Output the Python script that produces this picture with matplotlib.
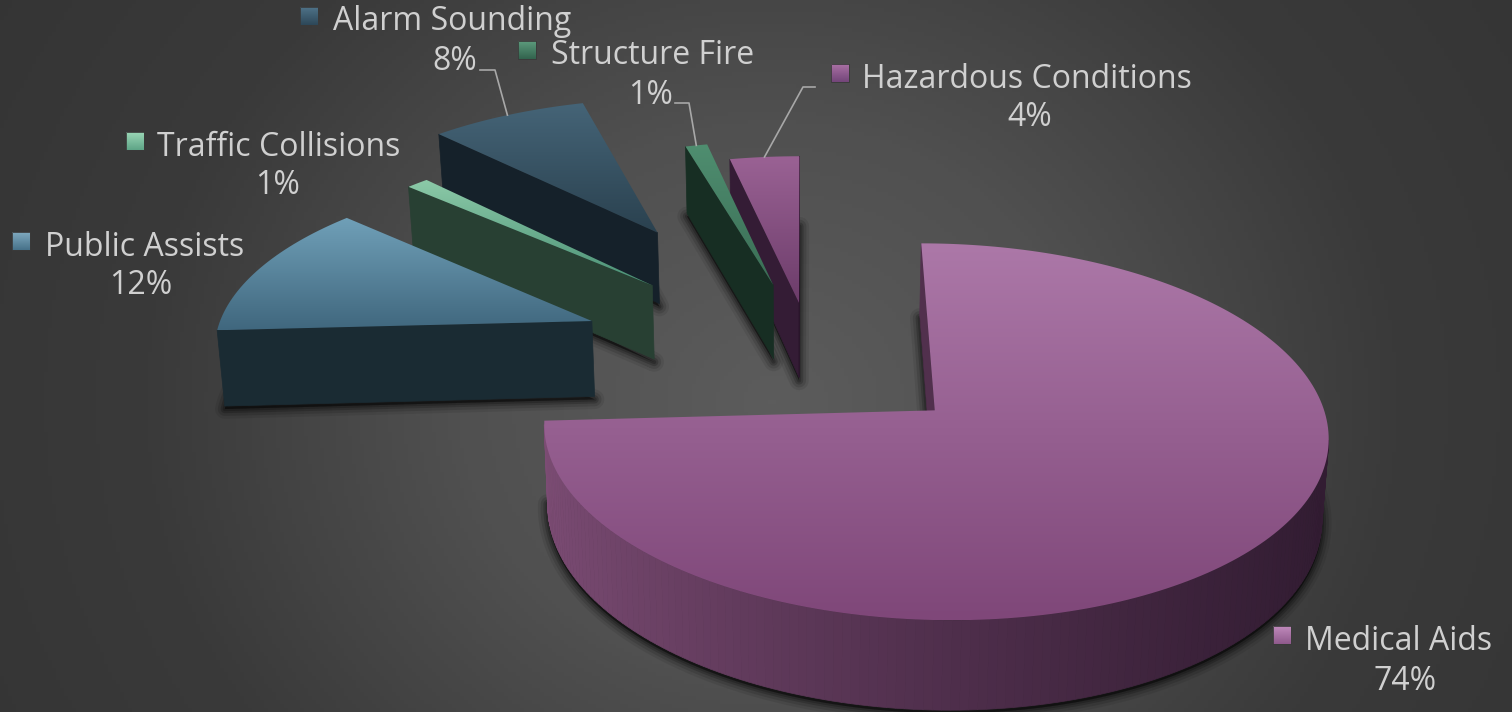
# -*- coding: utf-8 -*-
"""
Exploded 3D pie of incident types, projected by hand since matplotlib has no 3D pie
"""

import numpy as np
import matplotlib.pyplot as plt
from matplotlib.colors import LinearSegmentedColormap, to_rgb
from matplotlib.patches import Polygon, Rectangle

plt.rcParams['font.family'] = ['Open Sans', 'DejaVu Sans']

# data, clockwise from 12 o'clock
categories = ['Medical Aids', 'Public Assists', 'Traffic Collisions',
              'Alarm Sounding', 'Structure Fire', 'Hazardous Conditions']
percent_labels = ['74%', '12%', '1%', '8%', '1%', '4%']
shares = [74.1, 12.45, 1.1, 7.9, 1.07, 3.35]
explode = [0.455, 0.602, 0.59, 0.87, 0.43, 0.31]
explode_deg = [132.6, 289.4, 315.3, 331.5, 349.0, 358.0]
radius_u = [0.99, 1.0, 1.0, 1.0, 1.0, 1.0]

# styles
top_light = ['#ac78a8', '#70a0b8', '#8ccaa8', '#456477', '#4f8e70', '#9a6294']
top_dark = ['#7f4779', '#40677e', '#4a9075', '#2a414f', '#3a6d55', '#6c3c6a']
wall_left = ['#7c4c74', '#1b2c34', '#30483b', '#1c2c36', '#223c30', '#432644']
wall_right = ['#321c32', '#1a2a32', '#233a2e', '#101a21', '#10241a', '#29152a']
draw_order = [5, 4, 3, 2, 1, 0]

# legend key x, name x, name y, percent x, percent y
label_pos = [(1273, 1305, 639, 1405, 679), (12, 45, 245, 141, 283),
             (126, 157, 145, 278, 184), (300, 333, 20, 455, 59),
             (518, 551, 54, 651, 93), (831, 862, 77, 1030, 116)]
key_colors = [('#c08abc', '#8f5a8c'), ('#7fa9bf', '#47728a'), ('#9ad6b6', '#5fa587'),
              ('#4f7288', '#2d4859'), ('#5c9a7c', '#33644e'), ('#a970a4', '#74467a')]
# leader elbow points: slice index, label end, elbow
leaders = [(3, (480, 70), (495, 70)), (4, (675, 103), (689, 103)), (5, (815, 87), (803, 87))]

# projection of the pie plane onto the page
OX, OY = 803, 355
RX, RY = 380, 173.6
K = 0.11
DEPTH = 77
BOTTOM_SHRINK = 0.987


def project(u, v):
    w = 1 + K * v
    return OX + RX * u / w, OY - RY * v / w


def drop(x, y, v):
    return OX + (x - OX) * BOTTOM_SHRINK, y + DEPTH / (1 + K * v)


def mix(c1, c2, t):
    return tuple((1 - t) * a + t * b for a, b in zip(to_rgb(c1), to_rgb(c2)))


fig = plt.figure(figsize=(15.12, 7.12), dpi=100)
ax = fig.add_axes([0, 0, 1, 1])
ax.set_xlim(0, 1512)
ax.set_ylim(712, 0)
ax.axis('off')

# background glow
xx, yy = np.meshgrid(np.arange(0, 1512, 4), np.arange(0, 712, 4))
rr = np.sqrt(((xx - 770) / 850) ** 2 + ((yy - 400) / 760) ** 2)
bg = LinearSegmentedColormap.from_list('bg', ['#5c5c5c', '#505050', '#3a3a3a', '#343434'])
ax.imshow(rr, cmap=bg, vmin=0, vmax=1.1, extent=(0, 1512, 712, 0), aspect='auto', zorder=0)

edges = np.cumsum([0] + shares) / sum(shares) * 2 * np.pi
apex_u = np.array(explode) * np.sin(np.radians(explode_deg))
apex_v = np.array(explode) * np.cos(np.radians(explode_deg))
z = 1
for i in draw_order:
    n = max(int(shares[i] * 3), 6)
    t = np.linspace(edges[i], edges[i + 1], n)
    u = np.r_[apex_u[i], apex_u[i] + radius_u[i] * np.sin(t)]
    v = np.r_[apex_v[i], apex_v[i] + np.cos(t)]
    x, y = project(u, v)
    xb, yb = drop(x, y, v)

    # soft shadow round the foot of the slice
    for lw, a in [(14, 0.08), (10, 0.12), (6, 0.18), (3, 0.2)]:
        ax.add_patch(Polygon(np.c_[xb, yb + 3], closed=True, fc='k', ec='k', lw=lw, alpha=a,
                             joinstyle='round', zorder=z))
    z += 1

    # walls, only the quads that face the viewer (edge running right to left on the page)
    xmin, xmax = x.min(), x.max()
    order = list(range(len(x)))
    for a, b in zip(order, order[1:] + [0]):
        if x[b] >= x[a]:
            continue
        tc = ((x[a] + x[b]) / 2 - xmin) / (xmax - xmin)
        c = mix(wall_left[i], wall_right[i], tc ** 0.75)
        ax.add_patch(Polygon([(x[a], y[a]), (x[b], y[b]), (xb[b], yb[b]), (xb[a], yb[a])],
                             closed=True, fc=c, ec=c, lw=0.5, zorder=z))
    z += 1

    # top face with vertical gradient
    poly = Polygon(np.c_[x, y], closed=True, fc='none', ec='none', transform=ax.transData)
    ax.add_patch(poly)
    cmap = LinearSegmentedColormap.from_list('top', [top_light[i], top_dark[i]])
    im = ax.imshow(np.linspace(0, 1, 128)[:, None], cmap=cmap, aspect='auto', zorder=z,
                   extent=(x.min(), x.max(), y.max(), y.min()))
    im.set_clip_path(poly)
    ax.set_xlim(0, 1512)
    ax.set_ylim(712, 0)
    z += 1

# leader lines run to the middle of the outer arc
for i, start, elbow in leaders:
    mid = (edges[i] + edges[i + 1]) / 2
    xe, ye = project(apex_u[i] + np.sin(mid), apex_v[i] + np.cos(mid))
    ax.plot([start[0], elbow[0], xe], [start[1], elbow[1], ye], color='#a8a8a8', lw=1.2, zorder=z)
z += 1

# labels
for name, pct, (kx, nx, ny, px, py), (c1, c2) in zip(categories, percent_labels, label_pos, key_colors):
    ky = ny - 13
    cmap = LinearSegmentedColormap.from_list('key', [c1, c2])
    key = Rectangle((kx, ky), 18, 18, fc='none', ec='#3a3a3a', lw=0.6, zorder=z + 1)
    ax.add_patch(key)
    ax.imshow(np.linspace(0, 1, 32)[:, None], cmap=cmap, aspect='auto', zorder=z,
              extent=(kx, kx + 18, ky + 18, ky))
    ax.text(nx, ny + 2, name, color='#d0d0d0', fontsize=23, ha='left', va='center', zorder=z)
    ax.text(px, py + 2, pct, color='#d0d0d0', fontsize=23, ha='center', va='center', zorder=z)
ax.set_xlim(0, 1512)
ax.set_ylim(712, 0)

fig.savefig('out.png', dpi=100)
plt.close()
